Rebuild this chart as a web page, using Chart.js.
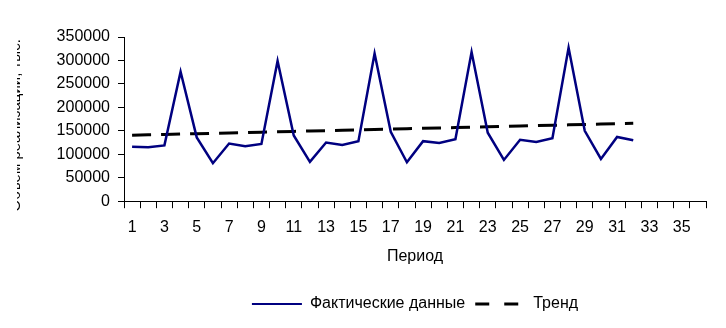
<!DOCTYPE html>
<html>
<head>
<meta charset="utf-8">
<script src="https://cdn.jsdelivr.net/npm/chart.js@4/dist/chart.umd.min.js"></script>
<style>
  html, body { margin: 0; padding: 0; background: #ffffff; }
  #wrap { width: 726px; height: 328px; position: relative; }
</style>
</head>
<body>
<div id="wrap"><canvas id="c" width="726" height="328"></canvas></div>
<script>
// ---- data ----
const periods = [1,2,3,4,5,6,7,8,9,10,11,12,13,14,15,16,17,18,19,20,21,22,23,24,25,26,27,28,29,30,31,32,33,34,35,36];
const actualValues = [116000,115000,119000,276000,136000,81000,123000,117000,122000,299000,140000,84000,
                      125000,120000,128000,315000,148000,83000,128000,124000,132000,318000,146000,88000,
                      131000,126000,134000,327000,150000,90000,137000,130000];
const trendValues = [140600,141400,142200,143100,143900,144700,145500,146300,147200,148000,148800,149600,
                     150400,151300,152100,152900,153700,154500,155400,156200,157000,157800,158600,159500,
                     160300,161100,161900,162700,163600,164400,165200,166000];
const yTicks = [0,50000,100000,150000,200000,250000,300000,350000];
const seriesNames = ['Фактические данные', 'Тренд'];
const xTitle = 'Период';
const yTitle = 'Объем реализации, тыс.   ';

const FONT = 'Liberation Sans, Arial, sans-serif';

const clipLeft = {
  id: 'clipLeft',
  beforeDraw(chart) {
    const ctx = chart.ctx;
    ctx.save();
    ctx.beginPath();
    ctx.rect(17, 0, chart.width, chart.height);
    ctx.clip();
  },
  afterDraw(chart) { chart.ctx.restore(); }
};

new Chart(document.getElementById('c'), {
  type: 'line',
  data: {
    labels: periods,
    datasets: [
      {
        label: seriesNames[0],
        data: actualValues,
        borderColor: '#000080',
        backgroundColor: '#000080',
        borderWidth: 2.5,
        pointRadius: 0,
        pointStyle: 'line',
        tension: 0,
        fill: false
      },
      {
        label: seriesNames[1],
        data: trendValues,
        borderColor: '#000000',
        backgroundColor: '#000000',
        borderWidth: 3,
        borderDash: [19, 10],
        pointRadius: 0,
        pointStyle: 'line',
        tension: 0,
        fill: false
      }
    ]
  },
  plugins: [clipLeft],
  options: {
    responsive: false,
    animation: false,
    devicePixelRatio: 1,
    layout: { padding: { left: 0, right: 20, top: 37, bottom: 6 } },
    font: { family: FONT },
    plugins: {
      tooltip: { enabled: false },
      legend: {
        position: 'bottom',
        fullSize: false,
        labels: {
          color: '#000',
          font: { family: FONT, size: 16 },
          usePointStyle: true,
          pointStyleWidth: 50,
          padding: 10,
          generateLabels(chart) {
            const items = Chart.defaults.plugins.legend.labels.generateLabels(chart);
            items.forEach(it => {
              if (it.datasetIndex === 1) it.lineDash = [14, 15];
              it.lineWidth = it.datasetIndex === 1 ? 3 : 2;
            });
            return items;
          }
        }
      }
    },
    scales: {
      x: {
        type: 'category',
        offset: true,
        grid: { display: true, offset: true, drawOnChartArea: false, drawTicks: true, tickLength: 7, color: '#000' },
        border: { display: true, color: '#000', width: 1 },
        ticks: {
          autoSkip: false,
          maxRotation: 0,
          minRotation: 0,
          padding: 10,
          color: '#000',
          font: { family: FONT, size: 16 },
          callback: function(val, idx) { return idx % 2 === 0 ? periods[idx] : ''; }
        },
        title: {
          display: true,
          text: xTitle,
          color: '#000',
          font: { family: FONT, size: 16 },
          padding: { top: 0, bottom: 19.4 }
        }
      },
      y: {
        min: 0,
        max: 350000,
        afterBuildTicks(scale) { scale.ticks = yTicks.map(v => ({ value: v })); },
        afterFit(scale) { scale.width = 124; },
        grid: { display: true, drawOnChartArea: false, drawTicks: true, tickLength: 6, color: '#000' },
        border: { display: true, color: '#000', width: 1 },
        ticks: {
          padding: 8,
          color: '#000',
          font: { family: FONT, size: 16 },
          callback: v => String(v)
        },
        title: {
          display: true,
          text: yTitle,
          color: '#000',
          font: { family: FONT, size: 15 },
          padding: { top: 7, bottom: 0 }
        }
      }
    }
  }
});
</script>
</body>
</html>
